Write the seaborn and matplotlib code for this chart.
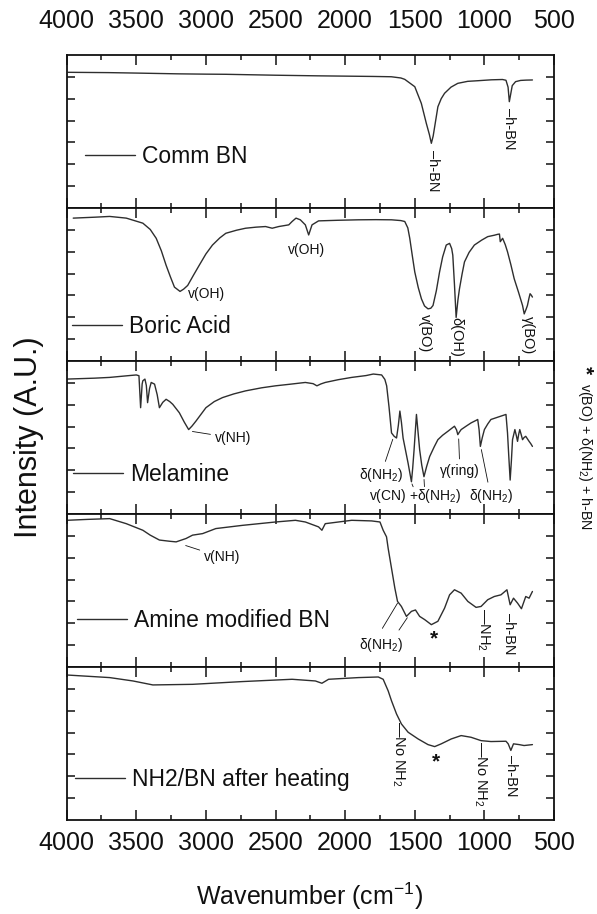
import matplotlib
matplotlib.use("Agg")
import numpy as np
import pandas as pd
import matplotlib.pyplot as plt
import seaborn as sns
from matplotlib.ticker import FixedLocator, MultipleLocator

# ---------------- data ----------------
series_names = ["Comm BN", "Boric Acid", "Melamine", "Amine modified BN", "NH2/BN after heating"]

comm_bn_wn = [3990, 3700, 3500, 3200, 3000, 2857, 2500, 2200, 2000, 1800, 1669, 1600, 1572, 1500, 1453,
              1417, 1395, 1381, 1368, 1357, 1334, 1310, 1286, 1240, 1191, 1120, 1048, 950, 870, 845,
              830, 821, 812, 800, 776, 740, 700, 655]
comm_bn_int = [0.887, 0.885, 0.882, 0.877, 0.875, 0.874, 0.868, 0.864, 0.862, 0.860, 0.858, 0.850, 0.841,
               0.793, 0.684, 0.553, 0.480, 0.423, 0.470, 0.532, 0.662, 0.715, 0.750, 0.790, 0.815, 0.828,
               0.832, 0.838, 0.840, 0.835, 0.790, 0.695, 0.740, 0.800, 0.826, 0.834, 0.836, 0.837]

boric_wn = [3953, 3800, 3691, 3572, 3453, 3400, 3357, 3320, 3286, 3255, 3226, 3186, 3160, 3131, 3090, 3048,
            3000, 2953, 2900, 2857, 2780, 2715, 2640, 2572, 2524, 2477, 2405, 2381, 2353, 2322, 2286, 2262,
            2238, 2191, 2050, 1905, 1780, 1667, 1600, 1572, 1550, 1536, 1518, 1500, 1475, 1452, 1430, 1405,
            1385, 1369, 1345, 1322, 1300, 1274, 1250, 1235, 1227, 1215, 1203, 1190, 1179, 1160, 1143, 1110,
            1072, 1020, 976, 930, 905, 892, 886, 869, 850, 834, 810, 786, 755, 726, 714, 700, 691, 680, 672,
            663, 655]
boric_int = [0.934, 0.940, 0.945, 0.934, 0.901, 0.860, 0.802, 0.720, 0.626, 0.550, 0.483, 0.455, 0.470,
             0.494, 0.560, 0.626, 0.700, 0.758, 0.805, 0.835, 0.855, 0.868, 0.875, 0.879, 0.868, 0.879,
             0.890, 0.912, 0.934, 0.923, 0.890, 0.824, 0.890, 0.916, 0.920, 0.923, 0.924, 0.923, 0.918,
             0.912, 0.870, 0.802, 0.690, 0.582, 0.480, 0.406, 0.360, 0.341, 0.345, 0.363, 0.460, 0.582,
             0.680, 0.758, 0.769, 0.735, 0.692, 0.500, 0.285, 0.400, 0.472, 0.570, 0.648, 0.710, 0.758,
             0.790, 0.813, 0.822, 0.828, 0.830, 0.780, 0.802, 0.760, 0.714, 0.630, 0.538, 0.450, 0.363,
             0.308, 0.340, 0.363, 0.410, 0.440, 0.430, 0.418]

melamine_wn = [4000, 3800, 3691, 3550, 3500, 3481, 3469, 3458, 3453, 3438, 3428, 3419, 3405, 3393, 3369,
               3350, 3334, 3310, 3286, 3260, 3238, 3191, 3155, 3124, 3100, 3072, 3000, 2940, 2881, 2800,
               2715, 2600, 2500, 2400, 2286, 2230, 2203, 2175, 2143, 2050, 1953, 1850, 1798, 1738, 1715,
               1702, 1685, 1667, 1648, 1631, 1618, 1607, 1596, 1584, 1565, 1548, 1524, 1515, 1505, 1488,
               1478, 1465, 1450, 1434, 1415, 1393, 1360, 1334, 1300, 1262, 1215, 1200, 1191, 1180, 1167,
               1130, 1095, 1060, 1048, 1038, 1029, 1015, 1000, 975, 953, 881, 845, 834, 825, 815, 806, 798,
               781, 770, 762, 754, 746, 736, 726, 715, 703, 690, 679, 667, 655]
melamine_int = [0.882, 0.888, 0.893, 0.905, 0.909, 0.904, 0.695, 0.850, 0.871, 0.882, 0.840, 0.728, 0.820,
                0.860, 0.849, 0.780, 0.695, 0.730, 0.750, 0.735, 0.717, 0.662, 0.600, 0.552, 0.575, 0.607,
                0.695, 0.735, 0.761, 0.785, 0.805, 0.825, 0.838, 0.848, 0.860, 0.852, 0.838, 0.850, 0.860,
                0.878, 0.893, 0.905, 0.915, 0.909, 0.880, 0.838, 0.700, 0.530, 0.508, 0.497, 0.580, 0.673,
                0.600, 0.497, 0.410, 0.332, 0.211, 0.300, 0.420, 0.651, 0.550, 0.420, 0.320, 0.244, 0.310,
                0.376, 0.440, 0.486, 0.515, 0.541, 0.574, 0.550, 0.519, 0.535, 0.552, 0.575, 0.596, 0.612,
                0.618, 0.550, 0.442, 0.500, 0.552, 0.590, 0.618, 0.640, 0.651, 0.530, 0.380, 0.222, 0.350,
                0.486, 0.552, 0.510, 0.475, 0.520, 0.552, 0.520, 0.486, 0.500, 0.508, 0.490, 0.475, 0.460,
                0.442]

amine_wn = [4000, 3850, 3691, 3572, 3453, 3400, 3334, 3260, 3214, 3143, 3096, 3024, 2929, 2738, 2500, 2357,
            2286, 2191, 2167, 2143, 1953, 1810, 1750, 1727, 1703, 1691, 1667, 1643, 1624, 1596, 1560, 1524,
            1495, 1465, 1429, 1381, 1334, 1286, 1250, 1215, 1167, 1119, 1060, 1024, 976, 929, 881, 838, 815,
            791, 762, 734, 703, 679, 655]
amine_int = [0.959, 0.965, 0.970, 0.937, 0.894, 0.862, 0.830, 0.822, 0.818, 0.840, 0.862, 0.872, 0.905,
             0.926, 0.948, 0.959, 0.948, 0.916, 0.894, 0.937, 0.959, 0.955, 0.948, 0.894, 0.851, 0.775,
             0.645, 0.515, 0.429, 0.396, 0.331, 0.364, 0.373, 0.331, 0.310, 0.277, 0.299, 0.385, 0.472,
             0.505, 0.483, 0.429, 0.390, 0.396, 0.440, 0.461, 0.472, 0.505, 0.407, 0.450, 0.418, 0.381,
             0.461, 0.450, 0.494]

heated_wn = [4000, 3691, 3524, 3381, 3096, 2738, 2381, 2214, 2167, 2119, 1905, 1762, 1727, 1691, 1667, 1631,
             1596, 1548, 1476, 1405, 1357, 1310, 1238, 1167, 1096, 1024, 953, 845, 829, 810, 791, 750, 715,
             655]
heated_int = [0.948, 0.931, 0.909, 0.883, 0.887, 0.905, 0.920, 0.909, 0.894, 0.920, 0.931, 0.935, 0.920,
              0.844, 0.779, 0.693, 0.628, 0.574, 0.530, 0.493, 0.480, 0.498, 0.530, 0.552, 0.541, 0.519,
              0.513, 0.515, 0.498, 0.455, 0.498, 0.493, 0.487, 0.493]

x_ticks = [4000, 3500, 3000, 2500, 2000, 1500, 1000, 500]
x_tick_labels = ["4000", "3500", "3000", "2500", "2000", "1500", "1000", "500"]

all_wn = [comm_bn_wn, boric_wn, melamine_wn, amine_wn, heated_wn]
all_int = [comm_bn_int, boric_int, melamine_int, amine_int, heated_int]

# ---------------- style ----------------
sns.set_theme(style="ticks")
plt.rcParams["font.family"] = ["Liberation Sans", "DejaVu Sans"]
plt.rcParams["mathtext.fontset"] = "custom"
plt.rcParams["mathtext.rm"] = "Liberation Sans"
plt.rcParams["mathtext.it"] = "Liberation Sans:italic"
plt.rcParams["mathtext.bf"] = "Liberation Sans:bold"
plt.rcParams["axes.linewidth"] = 1.3
plt.rcParams["axes.edgecolor"] = "#111111"

LINE = "#2e2e2e"
TXT = "#111111"

fig, axes = plt.subplots(5, 1, figsize=(5.97, 9.14), dpi=100, sharex=True)
fig.subplots_adjust(left=0.1117, right=0.928, top=0.9398, bottom=0.1028, hspace=0)

legend_anchor = [(0.0375, 0.335), (0.0103, 0.226), (0.013, 0.261), (0.0205, 0.303), (0.017, 0.264)]

for i, ax in enumerate(axes):
    df = pd.DataFrame({"Wavenumber": all_wn[i], "Intensity": all_int[i]})
    sns.lineplot(data=df, x="Wavenumber", y="Intensity", ax=ax, color=LINE, lw=1.0,
                 estimator=None, label=series_names[i])
    ax.set_xlim(4000, 500)
    ax.set_ylim(0, 1)
    ax.xaxis.set_major_locator(FixedLocator(x_ticks))
    ax.xaxis.set_minor_locator(MultipleLocator(250))
    ax.yaxis.set_major_locator(FixedLocator([k / 7 for k in range(1, 7)]))
    ax.set_xlabel("")
    ax.set_ylabel("")
    ax.tick_params(axis="both", which="both", direction="in", top=True, bottom=True,
                   left=True, right=True, labelleft=False, labelbottom=False, labeltop=False,
                   color=TXT, width=1.1)
    ax.tick_params(axis="x", which="major", length=7)
    ax.tick_params(axis="x", which="minor", length=3.6)
    ax.tick_params(axis="y", which="major", length=5.5)
    leg = ax.legend(loc="center left", bbox_to_anchor=legend_anchor[i], frameon=False,
                    handlelength=2.2, handletextpad=0.28, borderpad=0, borderaxespad=0,
                    fontsize=16.5)
    for t in leg.get_texts():
        t.set_color(TXT)

axes[0].tick_params(axis="x", which="major", labeltop=True, pad=16, labelsize=18, labelcolor=TXT)
axes[0].set_xticks(x_ticks)
axes[0].set_xticklabels(x_tick_labels)
axes[-1].tick_params(axis="x", which="major", labelbottom=True, pad=8, labelsize=18, labelcolor=TXT)

ann_fs = 10
lead = dict(arrowstyle="-", color=TXT, lw=0.6, shrinkA=1, shrinkB=1)


def vtext(ax, x, y, s, fs=10.5):
    ax.text(x, y, s, rotation=270, ha="center", va="top", fontsize=fs, color=TXT)


# Panel 1: Comm BN
vtext(axes[0], 1369, 0.379, "–h-BN")
vtext(axes[0], 821, 0.653, "–h-BN")

# Panel 2: Boric acid
axes[1].text(3131, 0.44, "v(OH)", ha="left", va="center", fontsize=ann_fs, color=TXT)
axes[1].text(2276, 0.725, "v(OH)", ha="center", va="center", fontsize=ann_fs, color=TXT)
vtext(axes[1], 1429, 0.308, "v(BO)")
vtext(axes[1], 1203, 0.285, "δ(OH)")
vtext(axes[1], 686, 0.297, "γ(BO)")

# Panel 3: Melamine
a = axes[2]
a.annotate("v(NH)", xy=(3107, 0.541), xytext=(2934, 0.497), ha="left", va="center",
           fontsize=ann_fs, color=TXT, arrowprops=lead)
a.annotate("δ(NH$_2$)", xy=(1655, 0.497), xytext=(1744, 0.255), ha="center", va="center",
           fontsize=ann_fs, color=TXT, arrowprops=lead)
a.text(1498, 0.119, "v(CN) +δ(NH$_2$)", ha="center", va="center", fontsize=ann_fs, color=TXT)
a.annotate("", xy=(1524, 0.205), xytext=(1508, 0.17), arrowprops=lead)
a.annotate("", xy=(1434, 0.235), xytext=(1430, 0.17), arrowprops=lead)
a.annotate("γ(ring)", xy=(1185, 0.50), xytext=(1176, 0.284), ha="center", va="center",
           fontsize=ann_fs, color=TXT, arrowprops=lead)
a.annotate("δ(NH$_2$)", xy=(1024, 0.43), xytext=(955, 0.119), ha="center", va="center",
           fontsize=ann_fs, color=TXT, arrowprops=lead)

# Panel 4: Amine modified BN
a = axes[3]
a.annotate("v(NH)", xy=(3155, 0.797), xytext=(2881, 0.716), ha="center", va="center",
           fontsize=ann_fs, color=TXT, arrowprops=lead)
a.text(1744, 0.147, "δ(NH$_2$)", ha="center", va="center", fontsize=ann_fs, color=TXT)
a.annotate("", xy=(1619, 0.425), xytext=(1738, 0.245), arrowprops=lead)
a.annotate("", xy=(1548, 0.33), xytext=(1619, 0.234), arrowprops=lead)
a.text(1362, 0.182, "*", ha="center", va="center", fontsize=15, fontweight="bold", color=TXT)
vtext(a, 1012, 0.385, "—NH$_2$")
vtext(a, 821, 0.353, "–h-BN")

# Panel 5: after heating
a = axes[4]
vtext(a, 1619, 0.649, "—No NH$_2$")
a.text(1346, 0.379, "*", ha="center", va="center", fontsize=15, fontweight="bold", color=TXT)
vtext(a, 1029, 0.519, "—No NH$_2$")
vtext(a, 810, 0.422, "–h-BN")

# Axis titles
fig.text(29 / 597, 0.5213, "Intensity (A.U.)", rotation=90, ha="center", va="center",
         fontsize=22, color=TXT)
fig.text(310 / 597, 1 - 896 / 914, "Wavenumber (cm$^{-1}$)", ha="center", va="center",
         fontsize=18, color=TXT)

# Right-side footnote for the asterisk
fig.text(585 / 597, 1 - 366 / 914, "*", rotation=270, ha="center", va="top",
         fontsize=15, fontweight="bold", color=TXT)
fig.text(585 / 597, 1 - 383 / 914, "v(BO) + δ(NH$_2$) + h-BN", rotation=270, ha="center",
         va="top", fontsize=10.3, color=TXT)

fig.savefig("out.png", dpi=100)
